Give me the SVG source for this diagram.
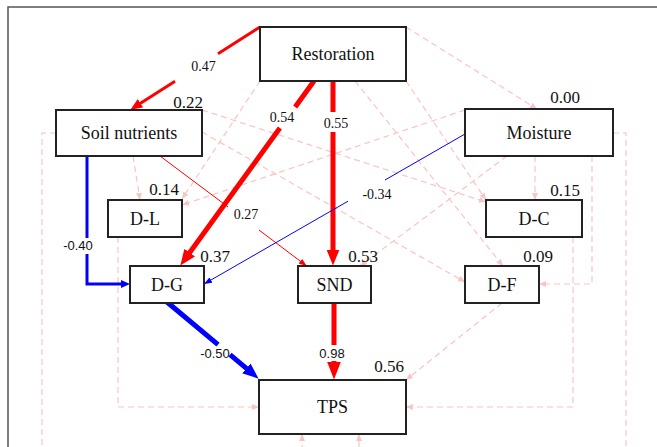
<svg xmlns="http://www.w3.org/2000/svg" width="657" height="447" viewBox="0 0 657 447">
<style>
.box{fill:#fff;stroke:#222;stroke-width:2}
.nl{font-family:"Liberation Serif","Times New Roman",serif;font-size:18px;fill:#111;text-anchor:middle}
.r2{font-family:"Liberation Serif","Times New Roman",serif;font-size:17px;fill:#111;text-anchor:end}
.cl{font-family:"Liberation Serif","Times New Roman",serif;font-size:14px;fill:#111;text-anchor:middle}
.cs{font-family:"Liberation Sans",Arial,sans-serif;font-size:13px;fill:#111;text-anchor:middle}
.dash{fill:none;stroke:#f9c4c4;stroke-width:1.2;stroke-dasharray:6 4;marker-end:url(#mPink)}
.red{fill:none;stroke:#ff0000}
.blue{fill:none;stroke:#0000ff}
</style>
<defs>
<marker id="mPink" markerUnits="userSpaceOnUse" viewBox="0 0 7 6" markerWidth="7" markerHeight="6" refX="7" refY="3" orient="auto"><path d="M0,0 L7,3 L0,6 z" fill="#f9c4c4"/></marker>
<marker id="mRedBig" markerUnits="userSpaceOnUse" viewBox="0 0 16 13" markerWidth="16" markerHeight="13" refX="0.5" refY="6.5" orient="auto"><path d="M0,0 L16,6.5 L0,13 z" fill="#ff0000"/></marker>
<marker id="mRedHuge" markerUnits="userSpaceOnUse" viewBox="0 0 18 14" markerWidth="18" markerHeight="14" refX="0.5" refY="7" orient="auto"><path d="M0,0 L18,7 L0,14 z" fill="#ff0000"/></marker>
<marker id="mBlueBig" markerUnits="userSpaceOnUse" viewBox="0 0 16 13" markerWidth="16" markerHeight="13" refX="0.5" refY="6.5" orient="auto"><path d="M0,0 L16,6.5 L0,13 z" fill="#0000ff"/></marker>
<marker id="mRedMed" markerUnits="userSpaceOnUse" viewBox="0 0 12 10" markerWidth="12" markerHeight="10" refX="0.5" refY="5" orient="auto"><path d="M0,0 L12,5 L0,10 z" fill="#ff0000"/></marker>
<marker id="mBlueMed" markerUnits="userSpaceOnUse" viewBox="0 0 9 8" markerWidth="9" markerHeight="8" refX="0.5" refY="4" orient="auto"><path d="M0,0 L9,4 L0,8 z" fill="#0000ff"/></marker>
<marker id="mRedThin" markerUnits="userSpaceOnUse" viewBox="0 0 8 6" markerWidth="8" markerHeight="6" refX="8" refY="3" orient="auto"><path d="M0,0 L8,3 L0,6 z" fill="#ff0000"/></marker>
<marker id="mBlueThin" markerUnits="userSpaceOnUse" viewBox="0 0 8 6" markerWidth="8" markerHeight="6" refX="8" refY="3" orient="auto"><path d="M0,0 L8,3 L0,6 z" fill="#0000ff"/></marker>
</defs>
<rect width="657" height="447" fill="#fff"/>
<path d="M8,447 V7 H657" fill="none" stroke="#555" stroke-width="1.5"/>
<g id="connectors">
<path class="dash" d="M406,27 L537,109"/>
<path class="dash" d="M260,81 L182,199"/>
<path class="dash" d="M406,81 L486,200"/>
<path class="dash" d="M355,81 L503,266"/>
<path class="dash" d="M133,156 L140,200"/>
<path class="dash" d="M202,110 L486,202"/>
<path class="dash" d="M202,132 L465,282"/>
<path class="dash" d="M56,133 H42 V470 H302 V434"/>
<path class="dash" d="M465,110 L182,205"/>
<path class="dash" d="M535,156 V200"/>
<path class="dash" d="M507,156 L360,266"/>
<path class="dash" d="M592,156 V284 H539"/>
<path class="dash" d="M613,133 H626 V470 H359 V434"/>
<path class="dash" d="M118,237 V407 H259"/>
<path class="dash" d="M573,237 V407 H406"/>
<path class="dash" d="M502,303 L406,380"/>
<path class="red" stroke-width="3" d="M260,27 L218,53.8 M175,81.3 L140.1,103.5" marker-end="url(#mRedMed)"/>
<text class="cl" x="203.5" y="71">0.47</text>
<path class="red" stroke-width="5" d="M314,81 L295.2,107 M279.9,128 L189.4,253" marker-end="url(#mRedBig)"/>
<text class="cl" x="282" y="122">0.54</text>
<path class="red" stroke-width="5" d="M333,81 V112 M333,132 V250" marker-end="url(#mRedBig)"/>
<text class="cl" x="336" y="128">0.55</text>
<path class="red" stroke-width="1" d="M160,156 L228,206.9 M259,230 L306.7,266" marker-end="url(#mRedThin)"/>
<text class="cl" x="246" y="219">0.27</text>
<path class="blue" stroke-width="3" d="M87,156 V238 M87,254 V284 H121.5" marker-end="url(#mBlueMed)"/>
<text class="cs" x="78" y="250">-0.40</text>
<path class="blue" stroke-width="1" d="M465,134 L385,180 M348,201.2 L204,284" marker-end="url(#mBlueThin)"/>
<text class="cl" x="377" y="199">-0.34</text>
<path class="blue" stroke-width="5" d="M167,302 L218,344.7 M230,354.7 L246.7,368.7" marker-end="url(#mBlueBig)"/>
<text class="cs" x="215" y="358">-0.50</text>
<path class="red" stroke-width="5" d="M334,303 V345 M334,361 V362" marker-end="url(#mRedHuge)"/>
<text class="cs" x="332" y="358">0.98</text>
</g>
<g id="node-restoration"><rect class="box" x="260" y="27" width="146" height="54"/><text class="nl" x="333" y="60">Restoration</text></g>
<g id="node-soil"><rect class="box" x="56" y="110" width="146" height="46"/><text class="nl" x="129" y="139">Soil nutrients</text><text class="r2" x="203" y="108">0.22</text></g>
<g id="node-moisture"><rect class="box" x="465" y="109" width="148" height="47"/><text class="nl" x="539" y="139">Moisture</text><text class="r2" x="580" y="103">0.00</text></g>
<g id="node-dl"><rect class="box" x="108" y="200" width="74" height="37"/><text class="nl" x="145" y="224.5">D-L</text><text class="r2" x="179" y="195">0.14</text></g>
<g id="node-dc"><rect class="box" x="486" y="200" width="96" height="37"/><text class="nl" x="534" y="224.5">D-C</text><text class="r2" x="580" y="196">0.15</text></g>
<g id="node-dg"><rect class="box" x="130" y="266" width="74" height="37"/><text class="nl" x="167" y="290.5">D-G</text><text class="r2" x="230" y="262">0.37</text></g>
<g id="node-snd"><rect class="box" x="298" y="266" width="73" height="37"/><text class="nl" x="334.5" y="290.5">SND</text><text class="r2" x="378" y="262">0.53</text></g>
<g id="node-df"><rect class="box" x="465" y="266" width="74" height="37"/><text class="nl" x="502" y="290.5">D-F</text><text class="r2" x="553" y="262">0.09</text></g>
<g id="node-tps"><rect class="box" x="259" y="380" width="147" height="54"/><text class="nl" x="332.5" y="413">TPS</text><text class="r2" x="404" y="372">0.56</text></g>
</svg>
